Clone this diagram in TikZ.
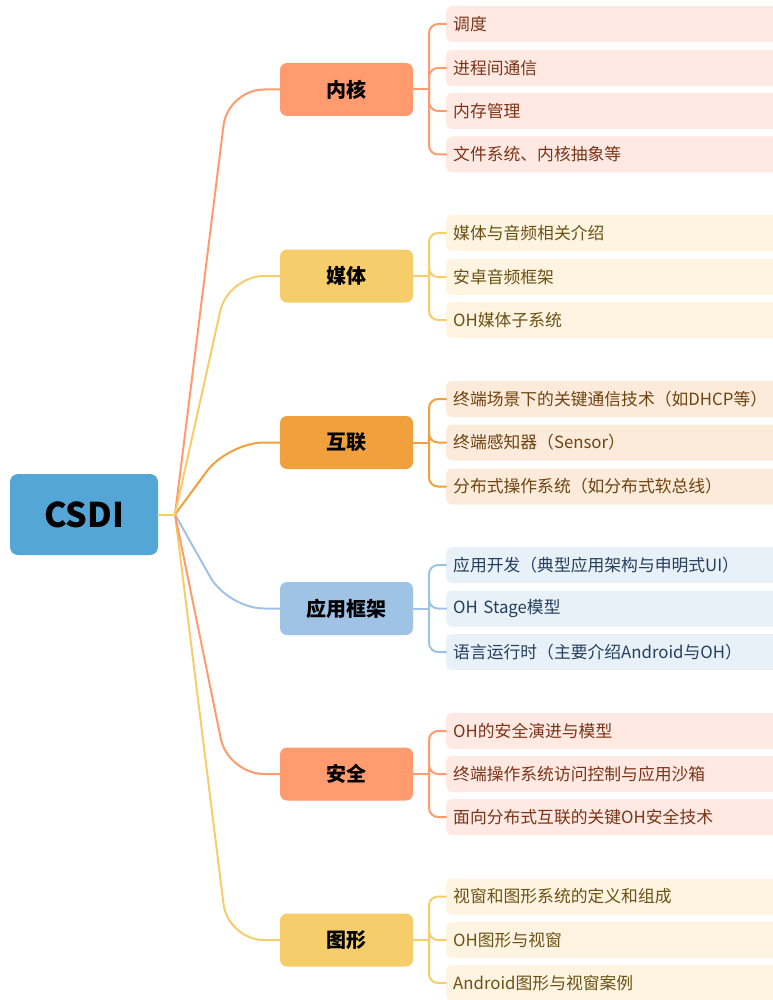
\documentclass[tikz,border=0pt]{standalone}
\usepackage{fontspec}
\setmainfont{Noto Sans CJK SC}
\begin{document}
\begin{tikzpicture}[x=1pt,y=-1pt,
  rootbox/.style={draw=none,fill=rootc,rounded corners=8pt,minimum width=148pt,minimum height=81pt,font=\fontsize{34}{34}\selectfont\bfseries,text=black,inner sep=0pt},
  branchbox/.style={draw=none,rounded corners=7pt,minimum width=133pt,minimum height=53pt,font=\fontsize{20}{20}\selectfont\bfseries,text=black,inner sep=0pt},
  leafbox/.style={draw=none,rounded corners=6pt,anchor=west,minimum height=36pt,text width=320pt,inner xsep=7pt,inner ysep=0pt,align=left,font=\fontsize{16.8}{16.8}\selectfont},
  conn/.style={line width=2pt,line cap=round},
]
\definecolor{rootc}{HTML}{53A6D6}
\definecolor{salc}{HTML}{FF9B6E}
\definecolor{salf}{HTML}{FFE9E2}
\definecolor{salt}{HTML}{7B3417}
\definecolor{yelc}{HTML}{F5CD6B}
\definecolor{yelf}{HTML}{FEF4E1}
\definecolor{yelt}{HTML}{6B5214}
\definecolor{orac}{HTML}{F0A03C}
\definecolor{oraf}{HTML}{FCEBDA}
\definecolor{orat}{HTML}{6E4310}
\definecolor{bluc}{HTML}{9EC3E4}
\definecolor{bluf}{HTML}{E8F0F8}
\definecolor{blut}{HTML}{24405E}
\useasboundingbox (0,0) rectangle (772,1000);

\node[rootbox] (root) at (84,514.5) {CSDI};
\coordinate (hub) at (175,514.5);
\coordinate (k) at (228,0);
\coordinate (t) at (429,0);

% branches
\node[branchbox,fill=salc] (b1) at (346.5,89.5) {内核};
\node[branchbox,fill=yelc] (b2) at (346.5,276) {媒体};
\node[branchbox,fill=orac] (b3) at (346.5,442.5) {互联};
\node[branchbox,fill=bluc] (b4) at (346.5,608.5) {应用框架};
\node[branchbox,fill=salc] (b5) at (346.5,774) {安全};
\node[branchbox,fill=yelc] (b6) at (346.5,940) {图形};

% leaves
\node[leafbox,fill=salf,text=salt] (c11) at (446,24) {调度};
\node[leafbox,fill=salf,text=salt] (c12) at (446,68) {进程间通信};
\node[leafbox,fill=salf,text=salt] (c13) at (446,111) {内存管理};
\node[leafbox,fill=salf,text=salt] (c14) at (446,154.5) {文件系统、内核抽象等};

\node[leafbox,fill=yelf,text=yelt] (c21) at (446,233) {媒体与音频相关介绍};
\node[leafbox,fill=yelf,text=yelt] (c22) at (446,277) {安卓音频框架};
\node[leafbox,fill=yelf,text=yelt] (c23) at (446,320) {OH媒体子系统};

\node[leafbox,fill=oraf,text=orat] (c31) at (446,399) {终端场景下的关键通信技术（如DHCP等）};
\node[leafbox,fill=oraf,text=orat] (c32) at (446,442.5) {终端感知器（Sensor）};
\node[leafbox,fill=oraf,text=orat] (c33) at (446,486.5) {分布式操作系统（如分布式软总线）};

\node[leafbox,fill=bluf,text=blut] (c41) at (446,565) {应用开发（典型应用架构与申明式UI）};
\node[leafbox,fill=bluf,text=blut] (c42) at (446,608.5) {OH Stage模型};
\node[leafbox,fill=bluf,text=blut] (c43) at (446,652) {语言运行时（主要介绍Android与OH）};

\node[leafbox,fill=salf,text=salt] (c51) at (446,731) {OH的安全演进与模型};
\node[leafbox,fill=salf,text=salt] (c52) at (446,774) {终端操作系统访问控制与应用沙箱};
\node[leafbox,fill=salf,text=salt] (c53) at (446,817) {面向分布式互联的关键OH安全技术};

\node[leafbox,fill=yelf,text=yelt] (c61) at (446,896.5) {视窗和图形系统的定义和组成};
\node[leafbox,fill=yelf,text=yelt] (c62) at (446,940) {OH图形与视窗};
\node[leafbox,fill=yelf,text=yelt] (c63) at (446,983) {Android图形与视窗案例};

% root connectors
\draw[conn,bluc,rounded corners=36pt] (hub) -- (b4.west -| k) -- (b4.west);
\draw[conn,orac,rounded corners=36pt] (hub) -- (b3.west -| k) -- (b3.west);
\draw[conn,yelc,rounded corners=36pt] (hub) -- (b6.west -| k) -- (b6.west);
\draw[conn,salc,rounded corners=36pt] (hub) -- (b5.west -| k) -- (b5.west);
\draw[conn,salc,rounded corners=36pt] (hub) -- (b1.west -| k) -- (b1.west);
\draw[conn,yelc,rounded corners=36pt] (hub) -- (b2.west -| k) -- (b2.west);
\draw[conn,yelc] (root.east) -- (hub);

% leaf connectors
\foreach \b/\c/\l in {b1/salc/{c11,c12,c13,c14},b2/yelc/{c21,c22,c23},b3/orac/{c31,c32,c33},b4/bluc/{c41,c42,c43},b5/salc/{c51,c52,c53},b6/yelc/{c61,c62,c63}}{
  \draw[conn,\c] (\b.east) -- (\b.east -| t);
  \foreach \x in \l {
    \draw[conn,\c,rounded corners=9pt] (\b.east -| t) |- (\x.west);
  }
}
\end{tikzpicture}
\end{document}
